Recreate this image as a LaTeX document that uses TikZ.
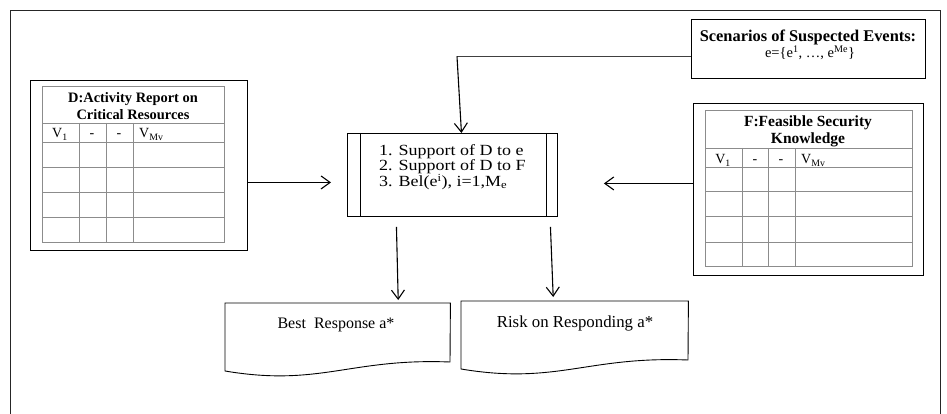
\documentclass[tikz,border=0pt]{standalone}
\usepackage{fontspec}
\setmainfont{Liberation Serif}
\newfontfamily\widefont{Liberation Serif}[FakeStretch=1.16]
\usetikzlibrary{arrows.meta,calc}
\begin{document}
\begin{tikzpicture}[x=1pt,y=-1pt,
  box/.style={draw=black,line width=0.9pt,anchor=north west,inner sep=0pt},
  tab/.style={draw=black!45,line width=0.8pt},
  ttl/.style={font=\fontsize{15.5}{17}\selectfont\bfseries,align=center,inner sep=0pt},
  hdr/.style={font=\fontsize{14}{14}\selectfont,inner sep=0pt,anchor=base},
  txt/.style={font=\widefont\fontsize{15.5}{15.5}\selectfont,inner sep=0pt,anchor=base west},
  lbl/.style={font=\fontsize{16}{16}\selectfont,inner sep=0pt,anchor=base},
  arr/.style={line width=1.1pt,-{Straight Barb[length=9pt,width=13pt,line width=1.1pt]}}]
\useasboundingbox (0,0) rectangle (947,414);
% outer frame
\draw[black!85,line width=0.8pt] (10,414) -- (10,10) -- (940,10) -- (940,414);

% ---------- D box ----------
\node[box,minimum width=217,minimum height=170] (D) at (30,80) {};
\draw[tab] (42,86) rectangle (224,242);
\foreach \yy in {123,142,167,192,217} \draw[tab] (42,\yy) -- (224,\yy);
\foreach \xx in {79,106,133} \draw[tab] (\xx,123) -- (\xx,242);
\node[ttl,font=\fontsize{14.4}{17}\selectfont\bfseries] (dtitle) at (133,106) {D:Activity Report on\\Critical Resources};
\node[hdr] (dv1) at (60,138) {V\textsubscript{1}};
\node[hdr] (dd1) at (92,138) {-};
\node[hdr] (dd2) at (119,138) {-};
\node[hdr,anchor=base west] (dvm) at (139,138) {V\textsubscript{Mv}};

% ---------- F box ----------
\node[box,minimum width=230,minimum height=172] (F) at (693,103) {};
\draw[tab] (705,110) rectangle (912,266);
\foreach \yy in {148,167,191,216,242} \draw[tab] (705,\yy) -- (912,\yy);
\foreach \xx in {742,768,795} \draw[tab] (\xx,148) -- (\xx,266);
\node[ttl] (ftitle) at (808,131) {F:Feasible Security\\Knowledge};
\node[hdr] (fv1) at (723,164) {V\textsubscript{1}};
\node[hdr] (fd1) at (755,164) {-};
\node[hdr] (fd2) at (781,164) {-};
\node[hdr,anchor=base west] (fvm) at (801,164) {V\textsubscript{Mv}};

% ---------- Scenarios box ----------
\node[box,minimum width=234,minimum height=59] (scen) at (691,19) {};
\node[ttl,anchor=base,font=\fontsize{16.4}{17}\selectfont\bfseries] (scen1) at (808,42) {Scenarios of Suspected Events:};
\node[hdr,font=\fontsize{14.5}{14.5}\selectfont] (scen2) at (810,58) {e=\{e\textsuperscript{1}, …, e\textsuperscript{Me}\}};

% ---------- center process box ----------
\node[box,minimum width=210,minimum height=83] (proc) at (347,133) {};
\draw[line width=0.9pt] ([xshift=13pt]proc.north west) -- ([xshift=13pt]proc.south west);
\draw[line width=0.9pt] ([xshift=-11pt]proc.north east) -- ([xshift=-11pt]proc.south east);
\node[txt] (l1) at (379,155.5) {1. Support of D to e};
\node[txt] (l2) at (379,171) {2. Support of D to F};
\node[txt] (l3) at (379,186.5) {3. Bel(e\textsuperscript{i}), i=1,M\textsubscript{e}};

% ---------- output documents ----------
\node[minimum width=225,minimum height=68,anchor=north west,inner sep=0pt] (best) at (225,303) {};
\draw[line width=0.9pt] (best.north west) -- (best.north east) -- (450,362)
   .. controls (350,358) and (320,387) .. (225,371) -- cycle;
\node[lbl] (bestt) at (336,328) {Best\ \ Response a*};

\node[minimum width=227,minimum height=68,anchor=north west,inner sep=0pt] (risk) at (461,301) {};
\draw[line width=0.9pt] (risk.north west) -- (risk.north east) -- (688,360)
   .. controls (587,356) and (557,385) .. (461,369) -- cycle;
\node[lbl,font=\fontsize{16.8}{16.8}\selectfont] (riskt) at (575,327) {Risk on Responding a*};

% ---------- connectors ----------
\draw[arr] ([yshift=-17pt]D.east) -- ([yshift=-7.5pt,xshift=-16pt]proc.west);
\draw[arr] ([yshift=6pt]F.west) -- ([yshift=-8.5pt,xshift=46pt]proc.east);
\draw[line width=1.1pt,black!75,-] ([yshift=-7.5pt]scen.west) -- ++(-234,0);
\draw[arr] ([yshift=-7.5pt,xshift=-234pt]scen.west) -- ([xshift=9pt]proc.north);
\draw[arr] ([xshift=-56pt,yshift=-10pt]proc.south) -- ([xshift=60.5pt,yshift=3pt]best.north);
\draw[arr] ([xshift=98pt,yshift=-10pt]proc.south) -- ([xshift=-21.5pt,yshift=4pt]risk.north);
\end{tikzpicture}
\end{document}
